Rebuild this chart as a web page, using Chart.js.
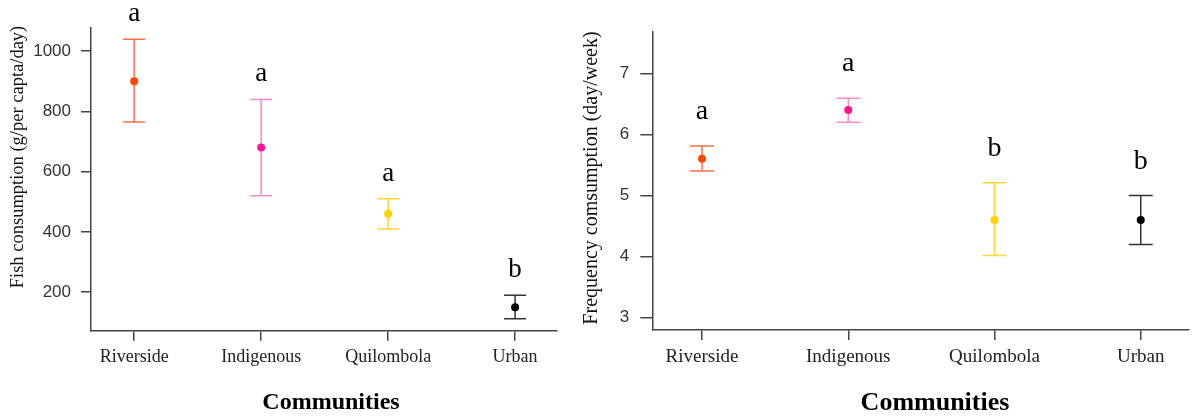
<!DOCTYPE html>
<html>
<head>
<meta charset="utf-8">
<script src="https://cdn.jsdelivr.net/npm/chart.js@4"></script>
<style>
  body { margin: 0; background: #fff; }
  #wrap { position: relative; width: 1193px; height: 419px; overflow: hidden; }
  canvas { position: absolute; top: 0; }
</style>
</head>
<body>
<div id="wrap">
  <canvas id="myChart1" width="580" height="419" style="left:0"></canvas>
  <canvas id="myChart2" width="613" height="419" style="left:580px"></canvas>
</div>
<script>
var categories = ['Riverside', 'Indigenous', 'Quilombola', 'Urban'];

// fish consumption (g/per capta/day)
var fishMean = [900, 680, 460, 150];
var fishLow = [765, 520, 410, 112];
var fishHigh = [1040, 840, 510, 190];
var fishLetters = ['a', 'a', 'a', 'b'];
var fishTicks = [200, 400, 600, 800, 1000];

// frequency (day/week)
var freqMean = [5.6, 6.4, 4.6, 4.6];
var freqLow = [5.4, 6.2, 4.02, 4.2];
var freqHigh = [5.81, 6.59, 5.21, 5.0];
var freqLetters = ['a', 'a', 'b', 'b'];
var freqTicks = [3, 4, 5, 6, 7];

var pointColors = ['#ff4500', '#ff1493', '#ffd200', '#000000'];
var barColors = ['#ff6f47', '#ff8ac6', '#ffd633', '#333333'];

var SERIF = '"Liberation Serif", "Times New Roman", serif';

// error bars + letters, drawn from the scales
var errorBars = {
  id: 'errorBars',
  beforeDatasetsDraw: function(chart, args, opts) {
    var ctx = chart.ctx;
    var xs = chart.scales.x, ys = chart.scales.y;
    ctx.save();
    ctx.lineWidth = 1.5;
    for (var i = 0; i < opts.low.length; i++) {
      var x = xs.getPixelForValue(i);
      var y1 = ys.getPixelForValue(opts.low[i]);
      var y2 = ys.getPixelForValue(opts.high[i]);
      ctx.strokeStyle = barColors[i];
      ctx.beginPath();
      ctx.moveTo(x, y1); ctx.lineTo(x, y2);
      ctx.moveTo(x - opts.cap, y1); ctx.lineTo(x + opts.cap, y1);
      ctx.moveTo(x - opts.cap, y2); ctx.lineTo(x + opts.cap, y2);
      ctx.stroke();
    }
    ctx.restore();
  },
  afterDraw: function(chart, args, opts) {
    var ctx = chart.ctx;
    var xs = chart.scales.x, ys = chart.scales.y;
    ctx.save();
    ctx.fillStyle = '#000';
    ctx.textAlign = 'center';
    ctx.textBaseline = 'alphabetic';
    ctx.font = opts.letterSize + 'px ' + SERIF;
    for (var i = 0; i < opts.letters.length; i++) {
      var x = xs.getPixelForValue(i);
      var y = ys.getPixelForValue(opts.high[i]) - opts.letterGap;
      ctx.fillText(opts.letters[i], x, y);
    }
    // axis titles
    ctx.font = 'bold ' + opts.xTitleSize + 'px ' + SERIF;
    ctx.textBaseline = 'middle';
    ctx.fillText('Communities', opts.xTitleX, opts.xTitleY);
    ctx.translate(opts.yTitleX, opts.yTitleY);
    ctx.rotate(-Math.PI / 2);
    ctx.font = opts.yTitleSize + 'px ' + SERIF;
    ctx.fillStyle = '#111';
    ctx.fillText(opts.yTitle, 0, 0);
    ctx.restore();
  }
};

function makeChart(id, mean, low, high, letters, yTicks, cfg) {
  var ctx = document.getElementById(id).getContext('2d');
  var pts = mean.map(function(v, i) { return {x: i, y: v}; });
  return new Chart(ctx, {
    type: 'scatter',
    data: {
      datasets: [{
        data: pts,
        pointRadius: 4,
        pointHoverRadius: 4,
        pointBackgroundColor: pointColors,
        pointBorderColor: pointColors,
        borderWidth: 0
      }]
    },
    options: {
      responsive: false,
      animation: false,
      devicePixelRatio: 1,
      layout: { padding: { top: cfg.top, right: cfg.right, left: 0, bottom: 0 } },
      plugins: {
        legend: { display: false },
        tooltip: { enabled: false },
        errorBars: {
          low: low, high: high, letters: letters, cap: cfg.cap,
          letterGap: cfg.letterGap, letterSize: cfg.letterSize,
          yTitle: cfg.yTitle, yTitleX: cfg.yTitleX, yTitleY: cfg.yTitleY, yTitleSize: cfg.yTitleSize,
          xTitleX: cfg.xTitleX, xTitleY: 403, xTitleSize: cfg.xTitleSize
        }
      },
      scales: {
        x: {
          type: 'linear',
          min: -0.34,
          max: 3.33,
          afterBuildTicks: function(s) {
            s.ticks = categories.map(function(c, i) { return {value: i}; });
          },
          afterFit: function(s) { s.height = cfg.xHeight; },
          border: { color: '#444', width: 1.5 },
          grid: { drawOnChartArea: false, drawTicks: true, tickLength: 10, color: '#444', lineWidth: 1.5 },
          ticks: {
            autoSkip: false,
            maxRotation: 0,
            padding: 6,
            color: '#222',
            font: { family: SERIF, size: cfg.catSize },
            callback: function(v) { return categories[v]; }
          }
        },
        y: {
          min: cfg.yMin,
          max: cfg.yMax,
          afterBuildTicks: function(s) {
            s.ticks = yTicks.map(function(v) { return {value: v}; });
          },
          afterFit: function(s) { s.width = cfg.yWidth; },
          border: { color: '#444', width: 1.5 },
          grid: { drawOnChartArea: false, drawTicks: true, tickLength: cfg.tickLen, color: '#444', lineWidth: 1.5 },
          ticks: {
            padding: cfg.tickPad,
            color: '#333',
            font: { family: '"Liberation Sans", Arial, sans-serif', size: 17 },
            callback: function(v) { return String(v); }
          }
        }
      }
    },
    plugins: [errorBars]
  });
}

function init() {
  makeChart('myChart1', fishMean, fishLow, fishHigh, fishLetters, fishTicks, {
    top: 28, right: 23, xHeight: 88.3, yWidth: 91, yMin: 72, yMax: 1077,
    tickLen: 10, tickPad: 10, cap: 11, letterGap: 18, letterSize: 27, catSize: 18,
    yTitle: 'Fish consumption (g/per capta/day)', yTitleX: 18, yTitleY: 157, yTitleSize: 18.5,
    xTitleX: 331, xTitleSize: 24
  });
  makeChart('myChart2', freqMean, freqLow, freqHigh, freqLetters, freqTicks, {
    top: 31.7, right: 0, xHeight: 89, yWidth: 72.3, yMin: 2.8, yMax: 7.68,
    tickLen: 12, tickPad: 11, cap: 12, letterGap: 27, letterSize: 28, catSize: 19,
    yTitle: 'Frequency comsumption (day/week)', yTitleX: 12, yTitleY: 178, yTitleSize: 20,
    xTitleX: 355, xTitleSize: 26
  });
}

init();
</script>
</body>
</html>
